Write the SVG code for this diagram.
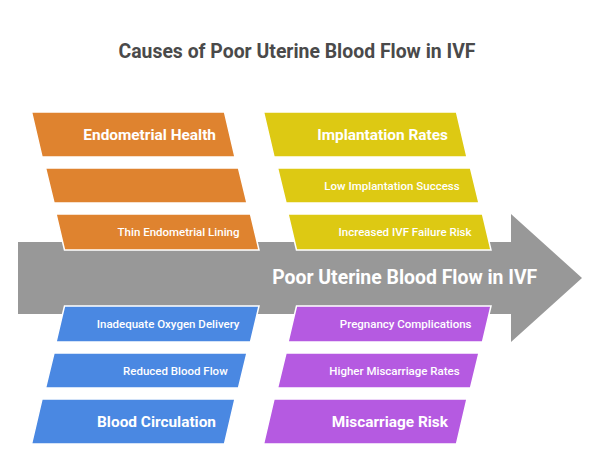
<svg xmlns="http://www.w3.org/2000/svg" width="590" height="453" viewBox="0 0 590 453">
<style>
text{font-family:Roboto,"Liberation Sans",sans-serif;fill:#fff}
.title{font-size:19.4px;font-weight:bold;fill:#4a4a4a;text-anchor:middle}
.main{font-size:19.4px;font-weight:bold;text-anchor:middle}
.hd{font-size:15.4px;font-weight:bold;text-anchor:end}
.sm{font-size:11.5px;font-weight:500;text-anchor:end}
.box{stroke:#fff;stroke-width:1.5}
.o{fill:#DF832F}.y{fill:#DDC913}.b{fill:#4A88E2}.p{fill:#B55AE1}
</style>
<rect width="590" height="453" fill="#fff"/>
<text class="title" x="297" y="57.7">Causes of Poor Uterine Blood Flow in IVF</text>
<g id="connectors">
<polygon points="18,242 511,242 511,214 582,278 511,342 511,314 18,314" fill="#989898"/>
</g>
<g id="main-label"><text class="main" x="404.7" y="284.3">Poor Uterine Blood Flow in IVF</text></g>
<g id="endometrial-health">
<polygon class="box o" points="31.5,112 224.5,112 235,157 42,157"/>
<text class="hd" x="216" y="140">Endometrial Health</text>
</g>
<g id="endometrial-empty">
<polygon class="box o" points="45.5,168 238.5,168 247,203 54,203"/>
</g>
<g id="thin-lining">
<polygon class="box o" points="56,214 250.5,214 259,250 64.5,250"/>
<text class="sm" x="239.5" y="236">Thin Endometrial Lining</text>
</g>
<g id="implantation-rates">
<polygon class="box y" points="263.5,112 456.5,112 467,157 274,157"/>
<text class="hd" x="448" y="140">Implantation Rates</text>
</g>
<g id="low-implantation">
<polygon class="box y" points="277.5,168 470.5,168 479,203 286,203"/>
<text class="sm" x="459.7" y="189.5">Low Implantation Success</text>
</g>
<g id="ivf-failure">
<polygon class="box y" points="288,214 482.5,214 491,250 296.5,250"/>
<text class="sm" x="471.5" y="236">Increased IVF Failure Risk</text>
</g>
<g id="oxygen-delivery">
<polygon class="box b" points="64.5,306 259,306 250.5,342 56,342"/>
<text class="sm" x="239.5" y="328">Inadequate Oxygen Delivery</text>
</g>
<g id="reduced-flow">
<polygon class="box b" points="54,353 247,353 238.5,388 45.5,388"/>
<text class="sm" x="227.7" y="374.5">Reduced Blood Flow</text>
</g>
<g id="blood-circulation">
<polygon class="box b" points="42,399 235,399 224.5,444 31.5,444"/>
<text class="hd" x="216" y="427">Blood Circulation</text>
</g>
<g id="pregnancy-complications">
<polygon class="box p" points="296.5,306 491,306 482.5,342 288,342"/>
<text class="sm" x="471.5" y="328">Pregnancy Complications</text>
</g>
<g id="higher-miscarriage">
<polygon class="box p" points="286,353 479,353 470.5,388 277.5,388"/>
<text class="sm" x="459.7" y="374.5">Higher Miscarriage Rates</text>
</g>
<g id="miscarriage-risk">
<polygon class="box p" points="274,399 467,399 456.5,444 263.5,444"/>
<text class="hd" x="448" y="427">Miscarriage Risk</text>
</g>
</svg>
